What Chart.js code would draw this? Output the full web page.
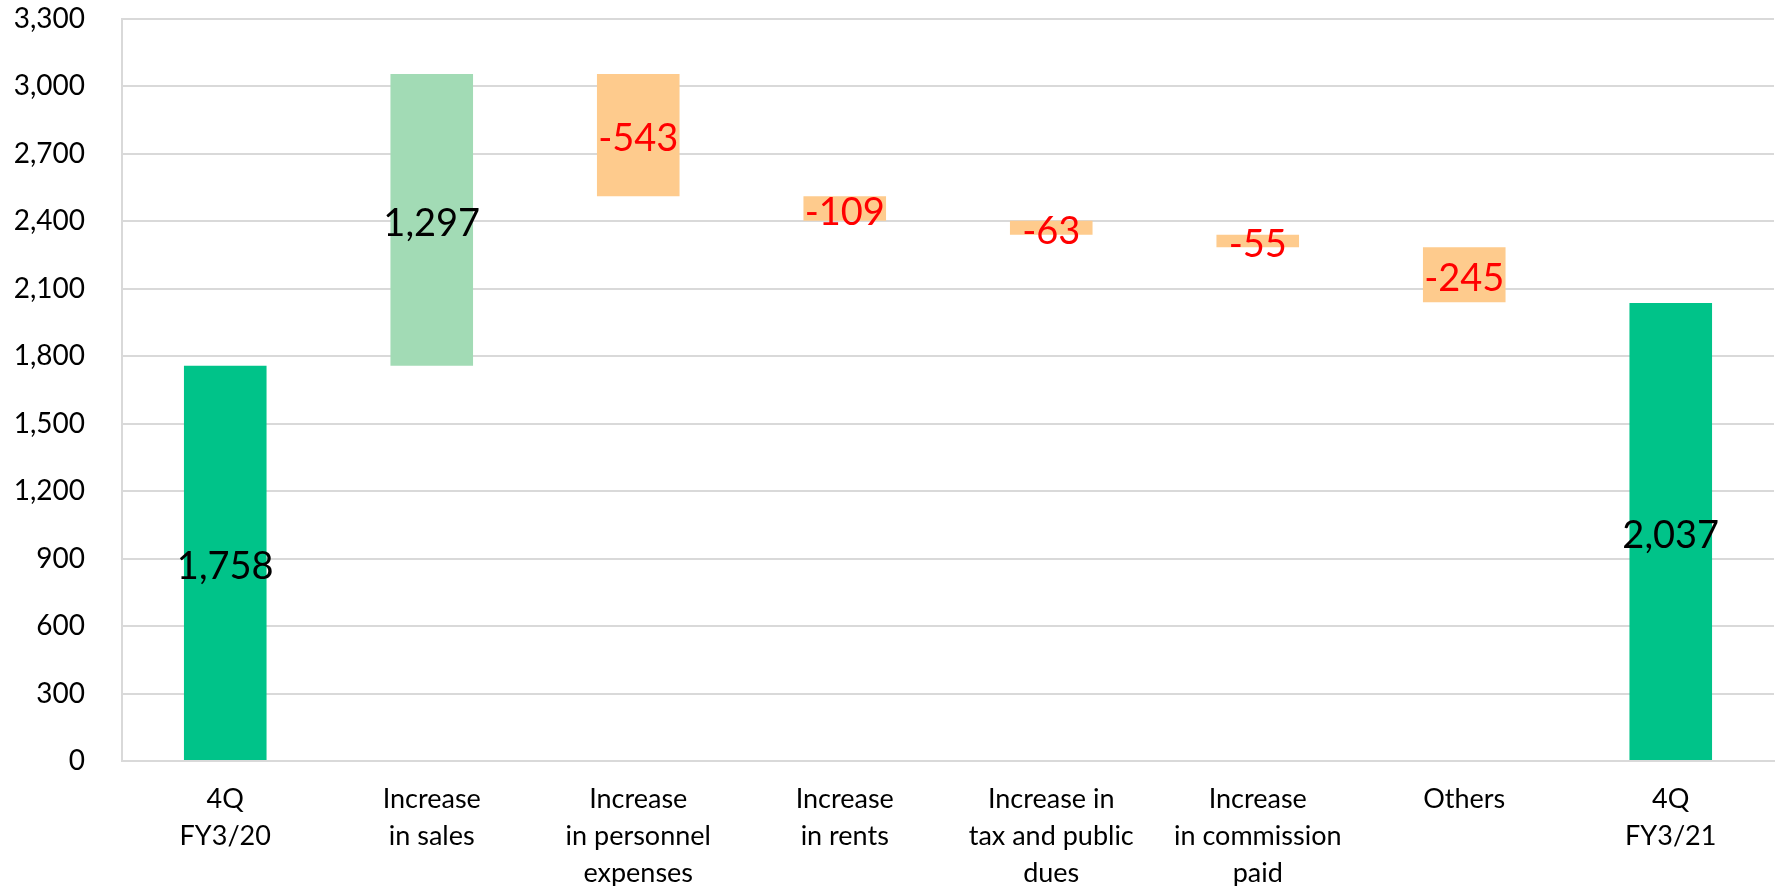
<!DOCTYPE html>
<html>
<head>
<meta charset="utf-8">
<script src="https://cdn.jsdelivr.net/npm/chart.js@4"></script>
<style>
    html, body { margin: 0; padding: 0; background: #fff; }
    #wrap { width: 1775px; height: 886px; }
</style>
</head>
<body>
<div id="wrap"><canvas id="waterfall"></canvas></div>
<script>
const categories = [
    ["4Q", "FY3/20"],
    ["Increase", "in sales"],
    ["Increase", "in personnel", "expenses"],
    ["Increase", "in rents"],
    ["Increase in", "tax and public", "dues"],
    ["Increase", "in commission", "paid"],
    ["Others"],
    ["4Q", "FY3/21"]
];
// bar start / end values (floating bars)
const barStarts = [0, 1758, 3055, 2512, 2403, 2340, 2285, 0];
const barEnds = [1758, 3055, 2512, 2403, 2340, 2285, 2040, 2037];
const labelTexts = ["1,758", "1,297", "-543", "-109", "-63", "-55", "-245", "2,037"];
const barKinds = ["total", "up", "down", "down", "down", "down", "down", "total"];

const fillByKind = { total: "#00C389", up: "#A2DBB5", down: "#FECB8D" };
const textByKind = { total: "#000000", up: "#000000", down: "#FF0000" };

const fontFamily = "Lato, 'Open Sans', sans-serif";

const drawLabels = {
    id: "drawLabels",
    afterDatasetsDraw(chart) {
        const { ctx } = chart;
        const meta = chart.getDatasetMeta(0);
        ctx.save();
        ctx.font = `38px ${fontFamily}`;
        ctx.textAlign = "center";
        ctx.textBaseline = "middle";
        meta.data.forEach((bar, i) => {
            const yMid = (bar.y + bar.base) / 2 + 4;
            ctx.fillStyle = textByKind[barKinds[i]];
            ctx.fillText(labelTexts[i], bar.x, yMid);
        });
        ctx.restore();
    }
};

const ctx = document.getElementById("waterfall").getContext("2d");

new Chart(ctx, {
    type: "bar",
    data: {
        labels: categories,
        datasets: [{
            data: barStarts.map((s, i) => [s, barEnds[i]]),
            backgroundColor: barKinds.map(k => fillByKind[k]),
            borderWidth: 0,
            categoryPercentage: 1,
            barPercentage: 0.4
        }]
    },
    options: {
        responsive: true,
        maintainAspectRatio: false,
        animation: false,
        layout: { padding: { top: 19, right: 1, left: 0, bottom: 0 } },
        plugins: {
            legend: { display: false },
            tooltip: { enabled: false }
        },
        scales: {
            x: {
                grid: { display: false, drawTicks: false },
                border: { color: "#d9d9d9", width: 2 },
                ticks: {
                    color: "#000",
                    font: { family: fontFamily, size: 27, lineHeight: 1.37 },
                    padding: 20,
                    maxRotation: 0,
                    autoSkip: false
                },
                afterFit(scale) { scale.height = 125; }
            },
            y: {
                min: 0,
                max: 3300,
                grid: { color: "#d9d9d9", lineWidth: 2, drawTicks: false },
                border: { color: "#d9d9d9", width: 2 },
                ticks: {
                    stepSize: 300,
                    color: "#000",
                    padding: 37,
                    font: { family: fontFamily, size: 28 },
                    callback: v => v.toLocaleString("en-US")
                },
                afterFit(scale) {
                    scale.width = 122;
                    scale.paddingTop = 0;
                    scale.paddingBottom = 0;
                }
            }
        }
    },
    plugins: [drawLabels]
});
</script>
</body>
</html>
